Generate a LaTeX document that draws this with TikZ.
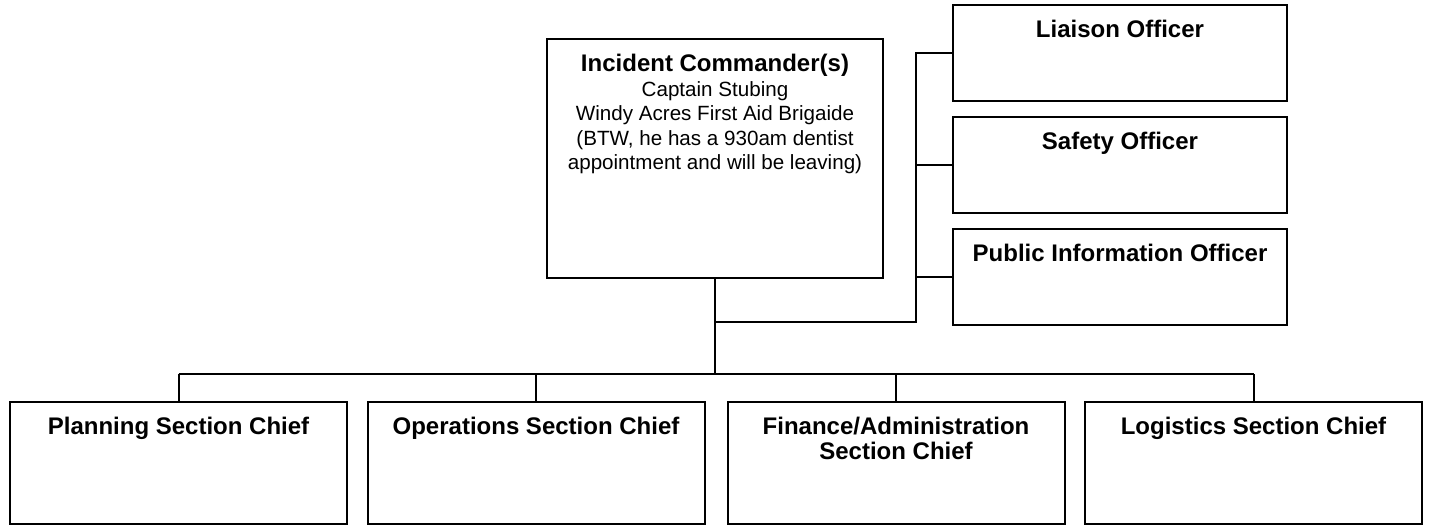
\documentclass[tikz,border=0pt]{standalone}
\usepackage{fontspec}
\setmainfont{Liberation Sans}
\usetikzlibrary{positioning}
\def\headfont{\bfseries\fontsize{12pt}{12.5pt}\selectfont}
\def\bodyfont{\fontsize{10.3pt}{12.3pt}\selectfont}
% text kept at the top of a fixed box: height, width, text
\newcommand{\boxtext}[3]{\parbox[c][#1][t]{#2}{\centering\vspace*{7.5pt}#3}}

\begin{document}
\begin{tikzpicture}[x=0.5pt,y=-0.5pt,
  orgbox/.style={draw,line width=1pt,inner sep=0pt,fill=white},
  link/.style={draw,line width=1pt}]

\useasboundingbox (0,0) rectangle (1429,527);

\node [orgbox] (ic) at (715,158.5) {\boxtext{119.5pt}{168pt}{{\headfont Incident Commander(s)}\\
  \bodyfont Captain Stubing\\ Windy Acres First Aid Brigaide\\
  (BTW, he has a 930am dentist\\ appointment and will be leaving)}};

\node [orgbox] (liai) at (1120,53) {\boxtext{48pt}{167pt}{\headfont Liaison Officer}};
\node [orgbox] (safe) at (1120,165) {\boxtext{48pt}{167pt}{\headfont Safety Officer}};
\node [orgbox] (pio) at (1120,277) {\boxtext{48pt}{167pt}{\headfont Public Information Officer}};

\node [orgbox] (plan) at (178.5,463) {\boxtext{61pt}{168.5pt}{\headfont Planning Section Chief}};
\node [orgbox] (oper) at (536,463) {\boxtext{61pt}{168.5pt}{\headfont Operations Section Chief}};
\node [orgbox] (fin) at (896,463) {\boxtext{61pt}{168.5pt}{\headfont Finance/Administration\\ Section Chief}};
\node [orgbox] (logi) at (1253.5,463) {\boxtext{61pt}{168.5pt}{\headfont Logistics Section Chief}};

\coordinate (bus) at (0,374);
\coordinate (side) at (916,322);

% command staff
\draw[link] (ic.south) -- (ic.south |- bus);
\draw[link] (ic.south |- side) -| (side |- liai.west) -- (liai.west);
\foreach \n in {safe,pio}
  \draw[link] (side |- \n.west) -- (\n.west);

% general staff
\draw[link] (plan.north |- bus) -- (logi.north |- bus);
\foreach \n in {plan,oper,fin,logi}
  \draw[link] (\n.north |- bus) -- (\n.north);
\end{tikzpicture}
\end{document}
